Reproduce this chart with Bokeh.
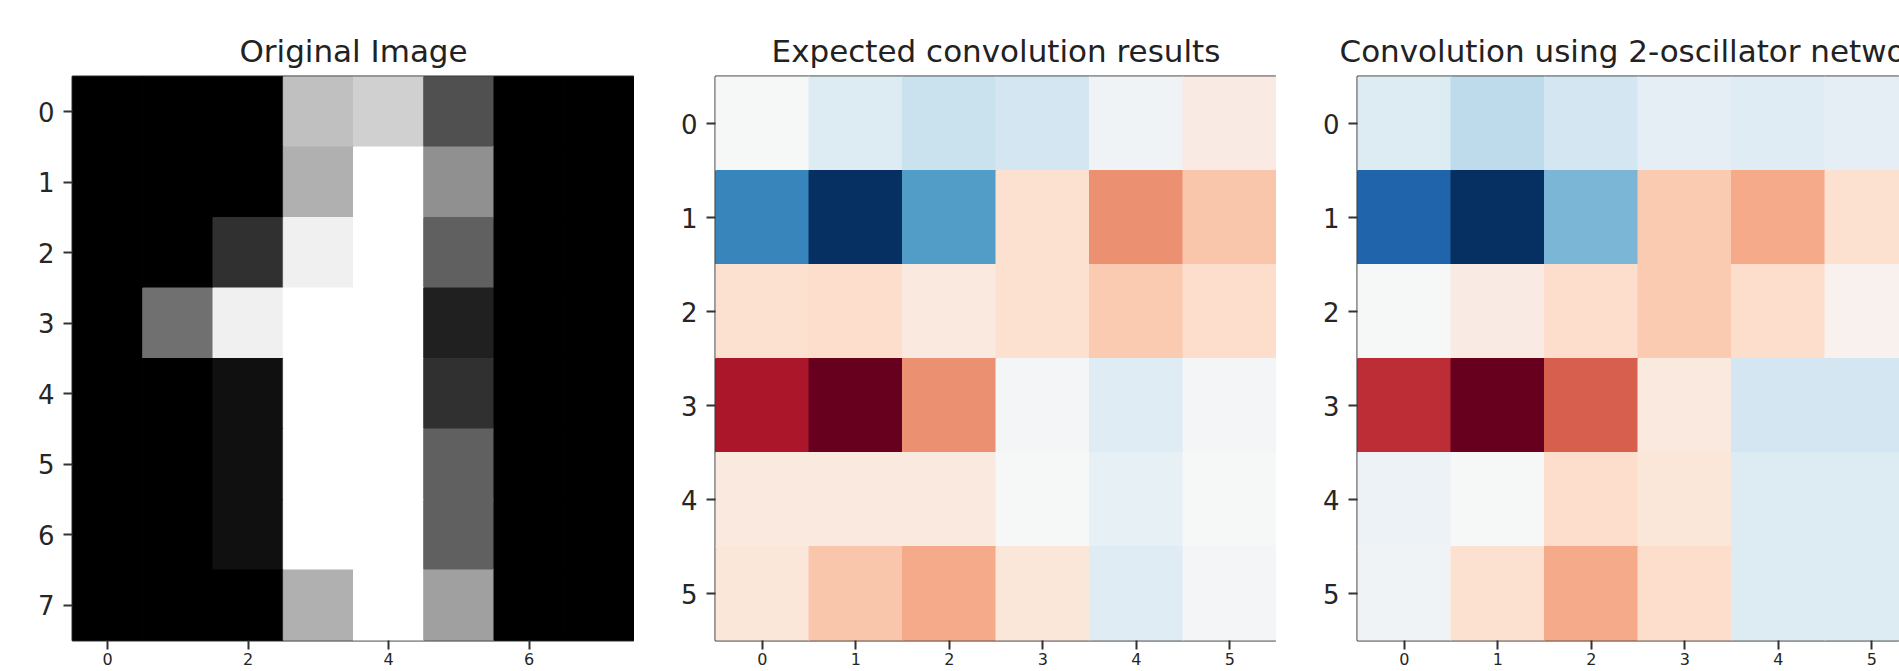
import numpy as np
from bokeh.plotting import figure
from bokeh.layouts import row
from bokeh.models import LinearColorMapper, FixedTicker, Range1d, ColumnDataSource
from bokeh.embed import file_html
from bokeh.resources import INLINE

# ---------------- data ----------------
titles = ["Original Image", "Expected convolution results",
          "Convolution using 2-oscillator network"]

# 8x8 digit "1" (pixel intensities 0..16)
original_image = [
    [0, 0, 0, 12, 13, 5, 0, 0],
    [0, 0, 0, 11, 16, 9, 0, 0],
    [0, 0, 3, 15, 16, 6, 0, 0],
    [0, 7, 15, 16, 16, 2, 0, 0],
    [0, 0, 1, 16, 16, 3, 0, 0],
    [0, 0, 1, 16, 16, 6, 0, 0],
    [0, 0, 1, 16, 16, 6, 0, 0],
    [0, 0, 0, 11, 16, 10, 0, 0],
]

# expected convolution (normalised: 0 = min, 1 = max)
expected_conv = [
    [0.50, 0.57, 0.61, 0.59, 0.52, 0.46],
    [0.83, 1.00, 0.78, 0.42, 0.27, 0.36],
    [0.42, 0.41, 0.45, 0.42, 0.37, 0.41],
    [0.09, 0.00, 0.27, 0.51, 0.56, 0.51],
    [0.45, 0.45, 0.45, 0.50, 0.54, 0.50],
    [0.44, 0.36, 0.31, 0.44, 0.56, 0.51],
]

# convolution from the 2-oscillator network (normalised)
oscillator_conv = [
    [0.57, 0.63, 0.59, 0.55, 0.56, 0.55],
    [0.90, 1.00, 0.73, 0.37, 0.31, 0.42],
    [0.50, 0.46, 0.41, 0.37, 0.41, 0.48],
    [0.13, 0.00, 0.20, 0.45, 0.59, 0.59],
    [0.53, 0.50, 0.41, 0.44, 0.57, 0.57],
    [0.52, 0.42, 0.31, 0.41, 0.57, 0.57],
]

img_xticks = [0, 2, 4, 6]
img_yticks = [0, 1, 2, 3, 4, 5, 6, 7]
conv_ticks = [0, 1, 2, 3, 4, 5]

# ---------------- styles ----------------
RDBU_ANCHORS = ["#67001f", "#b2182b", "#d6604d", "#f4a582", "#fddbc7", "#f7f7f7",
                "#d1e5f0", "#92c5de", "#4393c3", "#2166ac", "#053061"]


def interp_palette(anchors, n=256):
    rgb = np.array([[int(h[i:i + 2], 16) for i in (1, 3, 5)] for h in anchors], float)
    pos = np.linspace(0, 1, len(anchors))
    t = np.linspace(0, 1, n)
    out = []
    for k in range(n):
        c = [np.interp(t[k], pos, rgb[:, j]) for j in range(3)]
        out.append("#%02x%02x%02x" % tuple(int(round(v)) for v in c))
    return out


RDBU = interp_palette(RDBU_ANCHORS)
GRAY = ["#%02x%02x%02x" % (i, i, i) for i in range(256)]

FONT = "DejaVu Sans"
TXT = "#262626"
FRAME_H = 564
CELL_CONV = 561 / 6


def make_panel(mat, palette, title, xticks, yticks, frame_w, x_end, left_border,
               title_align="center", title_offset=0):
    arr = np.array(mat, dtype=float)
    nr, nc = arr.shape
    xs, ys, vs = [], [], []
    for r in range(nr):
        for c in range(nc):
            xs.append(c)
            ys.append(r)
            vs.append(arr[r, c])
    src = ColumnDataSource(dict(x=xs, y=ys, v=vs))
    mapper = LinearColorMapper(palette=palette, low=float(arr.min()), high=float(arr.max()))
    p = figure(output_backend="svg", toolbar_location=None,
               frame_width=frame_w, frame_height=FRAME_H,
               min_border_left=left_border, min_border_right=0,
               min_border_top=76, min_border_bottom=31,
               x_range=Range1d(-0.5, x_end), y_range=Range1d(nr - 0.5, -0.5),
               title=title)
    p.rect("x", "y", width=1, height=1, source=src,
           fill_color={"field": "v", "transform": mapper},
           line_color={"field": "v", "transform": mapper}, line_width=1)
    p.grid.visible = False
    p.background_fill_color = "white"
    p.border_fill_color = "white"
    p.outline_line_color = "#333333"
    p.outline_line_width = 2
    p.outline_line_alpha = 1.0

    p.xaxis.ticker = FixedTicker(ticks=xticks)
    p.yaxis.ticker = FixedTicker(ticks=yticks)
    for ax in (p.xaxis, p.yaxis):
        ax.axis_line_color = None
        ax.major_tick_line_color = "#333333"
        ax.major_tick_line_width = 2
        ax.major_tick_in = 0
        ax.minor_tick_line_color = None
        ax.major_label_text_font = FONT
        ax.major_label_text_color = TXT
    p.yaxis.major_tick_out = 9
    p.yaxis.major_label_standoff = 9
    p.yaxis.major_label_text_font_size = "26px"
    p.xaxis.major_tick_out = 9
    p.xaxis.major_label_standoff = 3
    p.xaxis.major_label_text_font_size = "16px"

    p.title.text_font = FONT
    p.title.text_font_size = "31px"
    p.title.text_font_style = "normal"
    p.title.text_color = "#222222"
    p.title.align = title_align
    p.title.offset = title_offset
    p.title.standoff = 15
    return p


p1 = make_panel(original_image, GRAY, titles[0], img_xticks, img_yticks,
                562, 7.5, 72)
p2 = make_panel(expected_conv, RDBU, titles[1], conv_ticks, conv_ticks,
                561, 5.5, 81)
w3 = 542
p3 = make_panel(oscillator_conv, RDBU, titles[2], conv_ticks, conv_ticks,
                w3, -0.5 + w3 / CELL_CONV, 81, title_align="left", title_offset=-18)

layout = row(p1, p2, p3, spacing=0)
open("out.html", "w").write(file_html(layout, INLINE))
